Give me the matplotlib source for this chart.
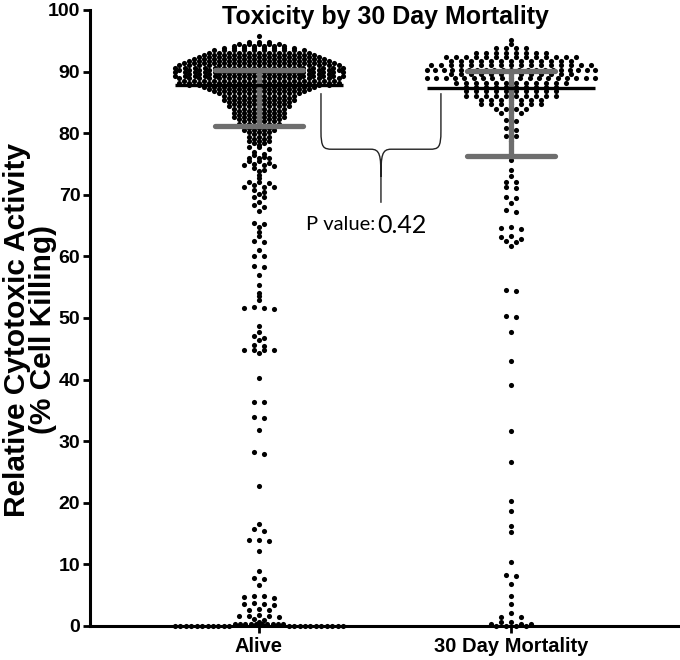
import numpy as np
import matplotlib
matplotlib.use('Agg')
import matplotlib.pyplot as plt
from matplotlib.path import Path
from matplotlib.patches import PathPatch

plt.rcParams['font.family'] = ['Liberation Sans', 'DejaVu Sans']
plt.rcParams['font.weight'] = 'bold'

groups = ['Alive', '30 Day Mortality']

# dense part of each group, read as rows: row value and number of dots in it
alive_row_values = [94.85, 94.5, 94.15, 93.8, 93.45, 93.1, 92.75, 92.4, 92.05, 91.7,
                    91.35, 91.0, 90.65, 90.3, 89.95, 89.6, 89.25, 88.9, 88.55, 88.2,
                    87.85, 87.5, 87.15, 86.8, 86.45, 86.1, 85.75, 85.4, 85.05, 84.7,
                    84.35, 84.0, 83.65, 83.3, 82.95, 82.6, 82.25, 81.9, 81.55, 81.2,
                    80.85, 80.5, 80.15, 79.8, 79.45, 79.1, 78.75, 78.4, 78.05, 77.7,
                    0.3, 0.0]
alive_row_counts = [3, 5, 6, 8, 10, 11, 12, 13, 14, 15,
                    16, 17, 18, 17, 18, 15, 18, 17, 16, 17,
                    15, 12, 11, 10, 9, 8, 7, 8, 7, 6,
                    7, 6, 5, 6, 5, 6, 5, 4, 5, 4,
                    3, 4, 3, 2, 3, 2, 3, 2, 1, 2,
                    10, 22]
# single dots
alive_values = [95.8, 77.4, 76.9, 76.6, 76.5, 76.2, 75.9, 75.9, 75.9, 75.5, 75.5,
                75.2, 75.0, 74.8, 74.8, 74.7, 74.3, 74.1, 73.8, 73.2, 72.7, 72.1,
                72.1, 71.9, 71.6, 71.3, 71.3, 71.3, 70.8, 70.5, 70.2, 69.7, 69.7,
                68.9, 68.3, 68.1, 67.3, 65.5, 65.2, 64.8, 64.0, 63.3, 62.5, 62.4,
                61.0, 60.0, 60.0, 58.4, 58.2, 57.0, 55.4, 54.0, 53.5, 52.9, 51.8,
                51.7, 51.6, 51.5, 48.7, 47.7, 47.0, 46.7, 46.4, 45.6, 45.5, 44.8,
                44.8, 44.8, 44.8, 44.3, 40.2, 36.4, 36.3, 33.9, 33.7, 31.8, 28.2,
                28.0, 22.8, 16.6, 15.7, 15.5, 14.0, 13.9, 13.8, 12.2, 8.9, 7.8,
                7.6, 6.7, 4.9, 4.8, 4.7, 4.6, 3.7, 3.6, 3.5, 3.4, 2.7, 2.6, 2.6,
                1.8, 1.7, 1.6, 1.6, 1.5, 1.2, 0.9, 0.7]

mort_row_values = [95.2, 94.5, 93.8, 93.1, 92.4, 91.7, 91.0, 90.3, 89.6, 88.9,
                   88.2, 87.5, 86.8, 86.1, 85.4, 84.7, 84.0, 83.3, 0.3, 0.0]
mort_row_counts = [1, 1, 4, 8, 14, 13, 17, 21, 13, 19,
                   12, 10, 10, 10, 7, 7, 4, 3, 3, 4]
mort_values = [82.2, 81.9, 80.8, 80.5, 79.6, 79.5, 78.8, 75.6, 74.0, 73.1, 72.1,
               72.1, 71.3, 71.1, 69.6, 69.4, 68.6, 67.5, 67.2, 64.7, 64.6, 64.4,
               63.3, 63.1, 62.9, 62.5, 62.3, 61.7, 54.6, 54.4, 50.3, 50.1, 47.7,
               43.0, 39.2, 31.7, 26.7, 20.3, 18.7, 16.2, 15.3, 10.4, 8.3, 8.1,
               6.8, 4.9, 3.5, 2.1, 1.5, 1.5, 0.7, 0.7]

# summary lines: median (black) and quartile bars (grey)
medians = [87.8, 87.4]
q_high = [90.3, 90.1]
q_low = [81.1, 76.3]
p_value = 0.42

_px = 1 / 252.0          # one pixel in x data units
_row_h = [0.35, 0.7]     # dots closer than this (in %) share a row


def dot_offsets(values, step, max_half, row_h):
    values = np.asarray(values, float)
    rows = []
    for i in np.argsort(-values, kind='stable'):
        if rows and values[i] > values[rows[-1][0]] - row_h + 1e-6:
            rows[-1].append(i)
        else:
            rows.append([i])
    xs = np.zeros(len(values))
    for idx in rows:
        n = len(idx)
        s = step if n < 2 else min(step, 2 * max_half / (n - 1))
        slots = (np.arange(n) - (n - 1) / 2) * s
        order = np.argsort(np.abs(slots), kind='stable')
        xs[idx] = slots[order]
    return xs


def group_values(row_values, row_counts, singles):
    return np.concatenate([np.repeat(row_values, row_counts), singles])


def main():
    fig = plt.figure(figsize=(6.8, 6.6), dpi=100)
    ax = fig.add_axes([90 / 680, 34 / 660, 590 / 680, 616 / 660])

    all_groups = [group_values(alive_row_values, alive_row_counts, alive_values),
                  group_values(mort_row_values, mort_row_counts, mort_values)]

    grey = '#6e6e6e'
    for i, vals in enumerate(all_groups):
        pos = i + 1
        xs = pos + dot_offsets(vals, 10 * _px, 84 * _px, _row_h[i])
        ax.plot(xs, vals, 'o', ms=3.7, color='black', mec='none',
                clip_on=False, zorder=3)

        ax.plot([pos, pos], [q_low[i], q_high[i]], color=grey, lw=3.8,
                solid_capstyle='butt', zorder=4)
        for q in (q_low[i], q_high[i]):
            ax.plot([pos - 44 * _px, pos + 44 * _px], [q, q], color=grey,
                    lw=3.8, solid_capstyle='round', zorder=4)
        ax.plot([pos - 84 * _px, pos + 84 * _px], [medians[i], medians[i]],
                color='black', lw=2.4, solid_capstyle='butt', zorder=5)

    # curly bracket between the two groups
    xl, xm, xr = 1.246, 1.484, 1.722
    y_top, y_mid, y_tip = 86.5, 77.4, 68.7
    verts = [(xl, y_top), (xl, y_mid + 3), (xl, y_mid + 0.2), (xl + 0.01, y_mid), (xl + 0.045, y_mid),
             (xm - 0.04, y_mid), (xm - 0.004, y_mid), (xm, y_mid - 1.0), (xm, y_mid - 4.5),
             (xm, y_tip),
             (xr, y_top), (xr, y_mid + 3), (xr, y_mid + 0.2), (xr - 0.01, y_mid), (xr - 0.045, y_mid),
             (xm + 0.04, y_mid), (xm + 0.004, y_mid), (xm, y_mid - 1.0), (xm, y_mid - 4.5)]
    codes = [Path.MOVETO, Path.LINETO, Path.CURVE4, Path.CURVE4, Path.CURVE4,
             Path.LINETO, Path.CURVE4, Path.CURVE4, Path.CURVE4, Path.LINETO,
             Path.MOVETO, Path.LINETO, Path.CURVE4, Path.CURVE4, Path.CURVE4,
             Path.LINETO, Path.CURVE4, Path.CURVE4, Path.CURVE4]
    ax.add_patch(PathPatch(Path(verts, codes), fill=False, lw=1.0,
                           edgecolor='#222222', zorder=2))

    ax.text(1.4603, 64.3, 'P value:', fontsize=14.5, fontweight='normal',
            family=['Lato', 'DejaVu Sans'], ha='right', va='baseline')
    ax.text(1.468, 63.8, f'{p_value:.2f}', fontsize=18, fontweight='normal',
            family=['Lato', 'DejaVu Sans'], ha='left', va='baseline')

    ax.set_xlim(0.3294, 2.6707)
    ax.set_ylim(0, 100)
    ax.set_yticks(np.arange(0, 101, 10))
    ax.set_xticks([1, 2], groups)
    for side in ('top', 'right'):
        ax.spines[side].set_visible(False)
    for side in ('left', 'bottom'):
        ax.spines[side].set_linewidth(2.2)
        ax.spines[side].set_capstyle('projecting')
    ax.tick_params(axis='y', direction='out', length=5, width=2, labelsize=14, pad=2)
    ax.tick_params(axis='x', direction='out', length=5, width=2, labelsize=14.5, pad=3)

    fig.text(30 / 680, 0.5, 'Relative Cytotoxic Activity\n(% Cell Killing)',
             rotation=90, ha='center', va='center', fontsize=21.5,
             multialignment='center', linespacing=0.95)
    fig.text(385 / 680, 1 - 24 / 660, 'Toxicity by 30 Day Mortality',
             ha='center', va='baseline', fontsize=18)

    fig.savefig('out.png', dpi=100)


if __name__ == '__main__':
    main()
